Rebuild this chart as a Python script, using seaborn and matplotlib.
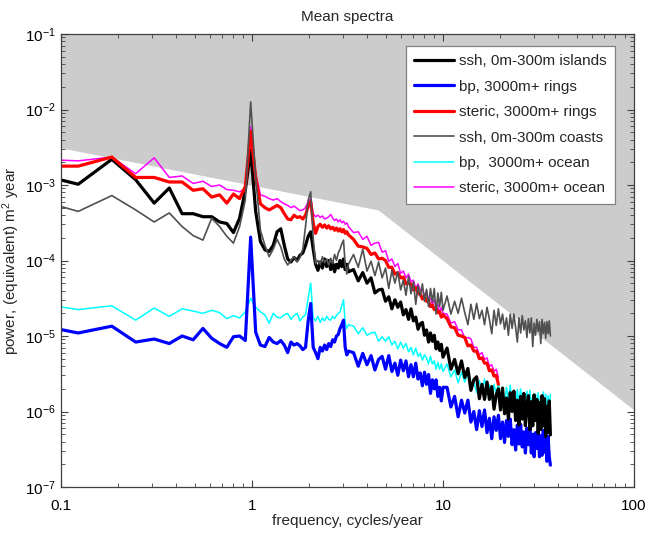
import numpy as np
import pandas as pd
import matplotlib
matplotlib.use("Agg")
import matplotlib.pyplot as plt
import seaborn as sns
from matplotlib.ticker import FixedLocator, FuncFormatter, LogLocator, NullFormatter

# ---------------- data (log10 of power) ----------------
freq_step = 0.0615                                   # cycles/year (native resolution)
freq_low = np.arange(1, 53) * freq_step              # 0.06 .. 3.2
freq_mid = np.round(np.arange(3.4, 10.01, 0.2), 2)   # 3.4 .. 10
freq_high = np.round(np.arange(10.5, 36.51, 0.5), 2) # 10.5 .. 36.5
freq = np.concatenate([freq_low, freq_mid, freq_high])

ssh_islands = [
    -2.80, -2.99, -2.66, -2.93, -3.24, -3.04, -3.38, -3.38, -3.42, -3.42, -3.49, -3.51, -3.63, -3.44, -3.07, -2.54,
    -3.35, -3.75, -3.86, -3.88, -3.80, -3.62, -3.58, -3.80, -3.98, -4.02, -3.96, -4.00, -3.93, -3.90, -3.80, -3.68, -3.62,
    -3.85, -4.05, -4.13, -4.02, -4.10, -3.98, -4.08, -4.00, -4.12, -4.03, -4.15, -4.05, -4.10, -4.00, -4.08, -3.98, -4.12, -4.05, -4.15,
    -4.12, -4.27, -4.16, -4.30, -4.23, -4.43, -4.39, -4.38, -4.54, -4.48, -4.64, -4.52, -4.62, -4.55, -4.72, -4.65, -4.78,
    -4.64, -4.80, -4.75, -4.91, -4.84, -4.82, -4.99, -4.92, -5.08, -4.96, -5.07, -4.99, -5.17, -5.08, -5.19, -5.11, -5.28,
    -5.16, -5.44, -5.31, -5.50, -5.33, -5.55, -5.43, -5.72, -5.58, -5.54, -5.83, -5.64, -5.84, -5.61, -5.84, -5.67, -5.97,
    -5.78, -5.70, -5.98, -5.69, -6.03, -5.82, -6.10, -5.75, -6.00, -5.73, -6.12, -5.85, -6.18, -5.80, -6.10, -5.76, -6.19,
    -5.91, -5.79, -6.24, -5.87, -6.19, -5.78, -6.12, -5.84, -6.29, -5.88, -6.24, -5.79, -6.19, -5.83, -6.33, -5.93, -6.28,
    -5.86, -6.31,
]
bp_rings = [
    -4.81, -4.96, -4.87, -5.08, -5.04, -5.10, -5.00, -5.05, -4.90, -5.03, -5.10, -5.15, -5.01, -5.00, -5.06, -3.69,
    -4.95, -5.12, -5.14, -5.02, -5.08, -5.10, -5.06, -5.12, -5.22, -5.08, -5.12, -5.10, -5.13, -5.18, -5.15, -4.80, -4.57,
    -5.15, -5.22, -5.30, -5.15, -5.20, -5.12, -5.18, -5.10, -5.14, -5.05, -5.08, -5.00, -4.98, -4.90, -4.85, -4.79, -5.15, -5.25, -5.20,
    -5.22, -5.40, -5.23, -5.38, -5.26, -5.45, -5.31, -5.27, -5.44, -5.26, -5.47, -5.36, -5.52, -5.32, -5.46, -5.33, -5.54,
    -5.38, -5.54, -5.36, -5.57, -5.49, -5.66, -5.48, -5.64, -5.51, -5.76, -5.58, -5.70, -5.58, -5.80, -5.68, -5.86, -5.68,
    -5.68, -5.94, -5.80, -6.07, -5.85, -6.02, -5.85, -6.14, -6.00, -6.24, -5.99, -6.20, -5.98, -6.28, -6.09, -6.36, -6.07,
    -6.25, -6.05, -6.36, -6.14, -6.41, -6.12, -6.33, -6.10, -6.44, -6.24, -6.51, -6.18, -6.43, -6.17, -6.47, -6.27, -6.55,
    -6.22, -6.44, -6.20, -6.55, -6.30, -6.60, -6.28, -6.49, -6.25, -6.60, -6.32, -6.58, -6.25, -6.54, -6.31, -6.66, -6.33,
    -6.60, -6.71,
]
steric_rings = [
    -2.75, -2.75, -2.63, -2.90, -2.90, -2.96, -2.96, -3.07, -3.05, -3.16, -3.13, -3.24, -3.12, -3.18, -3.02, -2.29,
    -2.90, -3.25, -3.30, -3.33, -3.30, -3.27, -3.30, -3.38, -3.45, -3.46, -3.40, -3.43, -3.42, -3.45, -3.40, -3.28, -3.22,
    -3.50, -3.64, -3.55, -3.52, -3.56, -3.53, -3.57, -3.54, -3.58, -3.56, -3.60, -3.57, -3.61, -3.58, -3.62, -3.59, -3.64, -3.62, -3.66,
    -3.72, -3.81, -3.82, -3.84, -3.92, -3.90, -3.98, -3.97, -4.00, -4.09, -4.09, -4.18, -4.16, -4.23, -4.22, -4.31, -4.30,
    -4.31, -4.39, -4.36, -4.44, -4.44, -4.51, -4.47, -4.54, -4.54, -4.61, -4.59, -4.65, -4.63, -4.69, -4.68, -4.75, -4.72,
    -4.77, -4.88, -4.89, -4.99, -5.00, -5.02, -5.13, -5.12, -5.20, -5.20, -5.30, -5.29, -5.36, -5.36, -5.46, -5.45, -5.53,
    -5.52, -5.64,
]
ssh_coasts = [
    -3.13, -3.35, -3.14, -3.33, -3.49, -3.37, -3.55, -3.67, -3.73, -3.44, -3.55, -3.68, -3.77, -3.55, -3.20, -1.90,
    -2.90, -3.60, -3.80, -3.95, -3.85, -3.72, -3.82, -3.98, -4.06, -4.00, -3.95, -4.02, -3.96, -3.85, -3.55, -3.20, -3.09,
    -3.70, -4.04, -4.00, -4.05, -3.95, -4.03, -3.98, -4.06, -3.97, -4.04, -3.92, -4.00, -3.90, -3.85, -3.78, -3.73, -4.05, -4.18, -4.05,
    -3.92, -4.09, -3.85, -4.14, -4.01, -4.20, -4.02, -4.23, -4.10, -4.37, -4.13, -4.30, -4.15, -4.39, -4.26, -4.46, -4.21,
    -4.44, -4.28, -4.58, -4.33, -4.47, -4.31, -4.54, -4.38, -4.61, -4.37, -4.55, -4.37, -4.71, -4.43, -4.61, -4.42, -4.66,
    -4.47, -4.71, -4.54, -4.70, -4.50, -4.69, -4.85, -4.58, -4.78, -4.57, -4.77, -4.66, -4.85, -4.62, -4.78, -4.97, -4.66,
    -4.86, -4.64, -4.84, -4.71, -4.91, -4.76, -4.99, -4.71, -4.90, -4.71, -4.89, -5.08, -4.76, -4.96, -4.73, -4.92, -4.80,
    -5.02, -4.77, -4.96, -4.76, -5.14, -4.83, -4.99, -4.78, -4.94, -4.81, -5.10, -4.78, -4.97, -4.82, -5.03, -4.81, -4.97,
    -4.80, -5.00,
]
bp_ocean = [
    -4.53, -4.65, -4.60, -4.79, -4.63, -4.74, -4.64, -4.67, -4.70, -4.66, -4.69, -4.77, -4.73, -4.76, -4.68, -4.50,
    -4.62, -4.68, -4.72, -4.83, -4.70, -4.75, -4.76, -4.72, -4.70, -4.78, -4.73, -4.70, -4.80, -4.75, -4.72, -4.50, -4.30,
    -4.76, -4.80, -4.74, -4.82, -4.76, -4.80, -4.74, -4.78, -4.79, -4.74, -4.77, -4.73, -4.70, -4.68, -4.60, -4.52, -4.82, -4.90, -4.85,
    -4.87, -4.97, -4.89, -4.99, -4.96, -4.95, -5.07, -5.01, -5.07, -5.01, -5.12, -5.07, -5.17, -5.08, -5.16, -5.10, -5.21,
    -5.15, -5.25, -5.16, -5.27, -5.23, -5.32, -5.25, -5.29, -5.37, -5.27, -5.37, -5.33, -5.44, -5.35, -5.44, -5.37, -5.47,
    -5.37, -5.54, -5.45, -5.62, -5.48, -5.61, -5.49, -5.68, -5.60, -5.75, -5.59, -5.73, -5.57, -5.78, -5.65, -5.83, -5.64,
    -5.78, -5.62, -5.85, -5.70, -5.89, -5.68, -5.85, -5.65, -5.90, -5.76, -5.94, -5.71, -5.89, -5.70, -5.94, -5.78, -5.98,
    -5.73, -5.90, -5.72, -5.98, -5.78, -6.02, -5.77, -5.93, -5.75, -6.01, -5.79, -5.99, -5.74, -5.97, -5.77, -6.03, -5.79,
    -5.99, -5.77,
]
steric_ocean = [
    -2.65, -2.68, -2.63, -2.85, -2.64, -2.90, -2.88, -2.98, -2.95, -3.02, -3.00, -3.06, -3.07, -3.09, -3.05, -2.23,
    -2.85, -3.13, -3.15, -3.18, -3.20, -3.18, -3.22, -3.25, -3.27, -3.30, -3.28, -3.31, -3.34, -3.33, -3.30, -3.22, -3.18,
    -3.38, -3.42, -3.40, -3.43, -3.41, -3.45, -3.44, -3.42, -3.39, -3.44, -3.47, -3.45, -3.49, -3.46, -3.50, -3.48, -3.52, -3.50, -3.55,
    -3.63, -3.62, -3.72, -3.68, -3.80, -3.77, -3.76, -3.89, -3.87, -4.01, -3.98, -4.08, -4.04, -4.17, -4.14, -4.23, -4.18,
    -4.28, -4.26, -4.37, -4.31, -4.39, -4.38, -4.47, -4.41, -4.52, -4.50, -4.58, -4.52, -4.61, -4.58, -4.69, -4.62, -4.70,
    -4.71, -4.83, -4.81, -4.92, -4.92, -5.03, -5.02, -5.04, -5.15, -5.15, -5.25, -5.22, -5.31, -5.29, -5.40, -5.38, -5.47,
    -5.44, -5.55,
]

series_labels = ["ssh, 0m-300m islands", "bp, 3000m+ rings", "steric, 3000m+ rings",
                 "ssh, 0m-300m coasts", "bp,  3000m+ ocean", "steric, 3000m+ ocean"]
series_values = [ssh_islands, bp_rings, steric_rings, ssh_coasts, bp_ocean, steric_ocean]
series_colors = ["#000000", "#0000ff", "#ff0000", "#505050", "#00ffff", "#ff00ff"]
series_widths = [2.3, 2.3, 2.3, 1.2, 1.1, 1.1]
series_zorder = [2.3, 2.2, 2.4, 2.5, 2.0, 2.1]

# gray "forbidden" region boundary
shade_freq = [0.1, 4.58, 100.0]
shade_level = [3.1e-3, 4.67e-4, 1.05e-6]

# ---------------- style ----------------
sns.set_style("ticks")
plt.rcParams["font.family"] = ["Liberation Sans", "DejaVu Sans"]
plt.rcParams["mathtext.default"] = "regular"
plt.rcParams["axes.unicode_minus"] = False

fig = plt.figure(figsize=(6.47, 5.33), dpi=100)
ax = fig.add_axes([61 / 647, 1 - 487 / 533, 573 / 647, 453 / 533])
ax.set_xscale("log")
ax.set_yscale("log")

ax.fill_between(shade_freq, shade_level, [0.1] * len(shade_freq),
                color="#cccccc", lw=0, zorder=0.5)

rows = []
for lab, vals in zip(series_labels, series_values):
    n = len(vals)
    rows.append(pd.DataFrame({"frequency": freq[:n], "power": 10.0 ** np.array(vals), "series": lab}))
data = pd.concat(rows, ignore_index=True)

for lab, col, lw, zo in zip(series_labels, series_colors, series_widths, series_zorder):
    sub = data[data["series"] == lab]
    sns.lineplot(data=sub, x="frequency", y="power", ax=ax, color=col, linewidth=lw,
                 label=lab, sort=False, estimator=None, zorder=zo)

ax.set_xlim(0.1, 100)
ax.set_ylim(1e-7, 1e-1)

ax.xaxis.set_major_locator(FixedLocator([0.1, 1, 10, 100]))
ax.xaxis.set_major_formatter(FuncFormatter(lambda v, _: {0.1: "0.1", 1: "1", 10: "10", 100: "100"}.get(round(v, 1), "")))
ax.xaxis.set_minor_locator(LogLocator(base=10, subs=np.arange(2, 10)))
ax.xaxis.set_minor_formatter(NullFormatter())
ax.yaxis.set_major_locator(FixedLocator([1e-7, 1e-6, 1e-5, 1e-4, 1e-3, 1e-2, 1e-1]))
ax.yaxis.set_major_formatter(FuncFormatter(lambda v, _: "$10^{%d}$" % int(round(np.log10(v)))))
ax.yaxis.set_minor_locator(LogLocator(base=10, subs=np.arange(2, 10)))
ax.yaxis.set_minor_formatter(NullFormatter())

ax.tick_params(which="both", direction="in", top=True, right=True, colors="#404040",
               labelcolor="black", labelsize=11)
ax.tick_params(axis="x", which="major", length=5, width=0.8, pad=9)
ax.tick_params(axis="y", which="major", length=5, width=0.8, pad=4)
ax.tick_params(which="minor", length=3, width=0.6)
for sp in ax.spines.values():
    sp.set_color("#404040")
    sp.set_linewidth(0.9)

ax.set_xlabel("frequency, cycles/year", fontsize=11)
ax.set_ylabel("power, (equivalent) m$^2$ year", fontsize=11)
ax.xaxis.set_label_coords(0.5, -0.060)
ax.yaxis.set_label_coords(-0.068, 0.5)
ax.set_title("Mean spectra", fontsize=11, pad=9)

handles, labels = ax.get_legend_handles_labels()
order = [labels.index(l) for l in series_labels]
leg = ax.legend([handles[i] for i in order], [labels[i] for i in order],
                loc="upper right", bbox_to_anchor=(0.967, 0.974), borderaxespad=0,
                frameon=True, fancybox=False, framealpha=1, edgecolor="#808080",
                fontsize=11, handlelength=2.6, handletextpad=0.35,
                labelspacing=0.75, borderpad=0.55)
leg.get_frame().set_linewidth(0.9)

fig.savefig("out.png", dpi=100, facecolor="white")
